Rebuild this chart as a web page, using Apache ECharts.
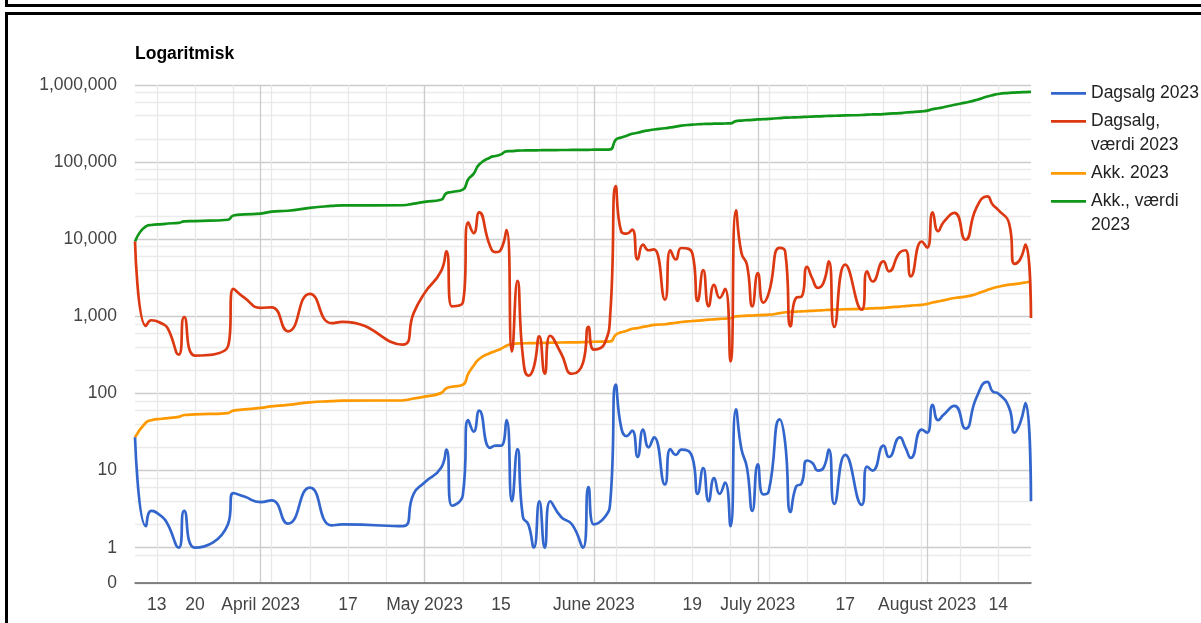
<!DOCTYPE html>
<html><head><meta charset="utf-8">
<script src="https://cdn.jsdelivr.net/npm/echarts@6/dist/echarts.min.js"></script>
<style>
html,body{margin:0;padding:0;background:#fff;overflow:hidden;width:1201px;height:623px;}
#box1{position:absolute;left:5px;top:-20px;width:1300px;height:21px;border:3px solid #000;}
#box2{position:absolute;left:5px;top:12px;width:1300px;height:700px;border:3px solid #000;}
#chart{position:absolute;left:0;top:0;width:1201px;height:623px;}
</style></head><body>
<div id="box1"></div><div id="box2"></div><div id="chart"></div>
<script>
// ---- data ----
const dates = ['2023-03-09','2023-03-11','2023-03-12','2023-03-14','2023-03-15','2023-03-17','2023-03-18','2023-03-20','2023-03-26','2023-03-27',
'2023-03-29','2023-04-01','2023-04-03','2023-04-06','2023-04-10','2023-04-14','2023-04-16','2023-04-27','2023-04-29','2023-05-01',
'2023-05-04','2023-05-05','2023-05-06','2023-05-08','2023-05-09','2023-05-10','2023-05-11','2023-05-13','2023-05-14','2023-05-15',
'2023-05-16','2023-05-17','2023-05-18','2023-05-19','2023-05-20','2023-05-21','2023-05-22','2023-05-23','2023-05-24','2023-05-26',
'2023-05-28','2023-05-30','2023-05-31','2023-06-01','2023-06-03','2023-06-04','2023-06-05','2023-06-06','2023-06-07','2023-06-08',
'2023-06-09','2023-06-10','2023-06-11','2023-06-12','2023-06-14','2023-06-15','2023-06-16','2023-06-17','2023-06-19','2023-06-20',
'2023-06-21','2023-06-22','2023-06-23','2023-06-24','2023-06-25','2023-06-26','2023-06-27','2023-06-28','2023-06-29','2023-06-30',
'2023-07-01','2023-07-02','2023-07-03','2023-07-05','2023-07-06','2023-07-07','2023-07-08','2023-07-09','2023-07-10','2023-07-11',
'2023-07-12','2023-07-13','2023-07-14','2023-07-15','2023-07-17','2023-07-20','2023-07-21','2023-07-22','2023-07-24','2023-07-25',
'2023-07-27','2023-07-28','2023-07-29','2023-07-31','2023-08-01','2023-08-02','2023-08-03','2023-08-04','2023-08-06','2023-08-08',
'2023-08-10','2023-08-12','2023-08-13','2023-08-14','2023-08-16','2023-08-17','2023-08-18','2023-08-19','2023-08-20'];

const dagsalg = [27,1.9,3,2.5,2,1,3,1,2,5.1,
4.6,3.9,4.1,2.05,6,1.95,2,1.9,5,7,
10.8,18.7,3.5,4.8,45,32,60,19.7,21,21,
45,4,19,2.5,2,1,4,1,4,2.5,
2,1,6.1,2,2.5,4,130,36,28,33,
15,34,20,27,6.6,19,16,18.7,15,5,
10.8,4,8,5,7,1.9,62,19,11,3,
12,4.9,5.4,46,23,2.9,6.2,6.8,13.5,12.5,
10,10.8,18.7,3.7,16,3.6,11.3,10,21,15,
27,20,14.6,34,31,71,45,53,69,35,
88,141,106,100,65,31,41,75,4];

const dagsalgVaerdi = [9350,750,890,800,700,318,980,310,405,2270,
1750,1290,1310,640,1960,815,850,430,1100,2000,
3830,6950,1350,1500,16600,12000,22300,8100,6800,7400,
13100,350,2880,300,170,220,550,180,560,330,
180,250,730,370,450,1100,49000,12600,11800,13300,
5460,8500,7200,7400,1650,7200,5460,7700,6620,1580,
3970,1350,2570,1740,2270,260,23600,6620,4690,1350,
3640,1510,2000,7740,6960,742,1740,1800,4370,3050,
2340,2700,5160,728,4690,1220,3840,2830,5160,3840,
6760,7200,3300,9350,7750,22300,12700,16700,21900,9850,
25500,36000,28000,24000,16000,4800,5460,8500,950];

const akk = [27,42,45,47,48,49.6,52.6,53.5,55.7,60,
62,65,68,71,76.8,79.5,80.6,81.5,86,91,
101,117,122,130,180,230,280,335,355,380,
416,438,445,447,449,450,452,453,455,458,
460,462,466,468,470,473,577,620,650,690,
705,730,750,775,790,810,825,845,870,880,
895,905,915,925,935,945,1000,1010,1020,1025,
1035,1045,1050,1100,1130,1140,1150,1160,1170,1180,
1190,1200,1215,1220,1235,1250,1260,1270,1290,1310,
1340,1360,1380,1410,1450,1510,1560,1610,1730,1800,
1950,2200,2320,2420,2580,2620,2680,2750,2830];

const akkVaerdi = [9350,14700,15300,15700,16000,16300,17000,17200,17900,20300,
21000,21500,22800,23400,25500,27000,27500,27600,29000,30500,
32500,39500,41000,44000,60000,71000,93000,115000,120000,126000,
138000,139000,141000,141500,141700,142000,142500,142700,143000,143500,
143800,144000,144500,144800,145000,146000,195000,208000,220000,233000,
240000,250000,258000,265000,275000,282000,288000,297000,306000,310000,
312000,313000,315000,316000,317000,318000,340000,346000,350000,353000,
358000,360000,363000,372000,378000,379000,381000,383000,387000,390000,
392000,394000,398000,399000,403000,408000,412000,415000,420000,425000,
432000,440000,444000,455000,465000,487000,500000,515000,555000,590000,
640000,710000,740000,765000,790000,798000,803000,810000,812000];

const seriesNames = ['Dagsalg 2023','Dagsalg, værdi 2023','Akk. 2023','Akk., værdi 2023'];
const legendLabels = ['Dagsalg 2023','Dagsalg,\nværdi 2023','Akk. 2023','Akk., værdi\n2023'];
const seriesColors = ['#3366cc','#dc3912','#ff9900','#109618'];

const xTickDates = ['2023-03-13','2023-03-20','2023-04-01','2023-04-17','2023-05-01','2023-05-15','2023-06-01','2023-06-19','2023-07-01','2023-07-17','2023-08-01','2023-08-14'];
const xTickLabels = ['13','20','April 2023','17','May 2023','15','June 2023','19','July 2023','17','August 2023','14'];
const monthStarts = ['2023-04-01','2023-05-01','2023-06-01','2023-07-01','2023-08-01'];
const weekStarts = ['2023-03-13','2023-03-20','2023-03-27','2023-04-03','2023-04-10','2023-04-17','2023-04-24','2023-05-01','2023-05-08','2023-05-15','2023-05-22','2023-05-29','2023-06-05','2023-06-12','2023-06-19','2023-06-26','2023-07-03','2023-07-10','2023-07-17','2023-07-24','2023-07-31','2023-08-07','2023-08-14'];
const xStart = '2023-03-09', xEnd = '2023-08-20';

const yTickValues = [0,1,10,100,1000,10000,100000,1000000];
const yTickLabels = ['0','1','10','100','1,000','10,000','100,000','1,000,000'];
const yMinorValues = [0.8,2,4,6,8,20,40,60,80,200,400,600,800,2000,4000,6000,8000,20000,40000,60000,80000,200000,400000,600000,800000];

// ---- helpers ----
const START = Date.UTC(2023,2,9), DAY = 86400000;
function dayIndex(s){ const p = s.split('-').map(Number); return Math.round((Date.UTC(p[0],p[1]-1,p[2]) - START)/DAY); }
const ZERO_POS = -0.458; // position of "0" on Google-style log scale
function toY(v){ return v > 0 ? Math.log10(v) : ZERO_POS; }
function pairs(vals){ return dates.map((d,i) => [dayIndex(d), toY(vals[i])]); }

const FONT = "'Liberation Sans', Arial, sans-serif";
const FS = 17.5;
const xTickPos = xTickDates.map(dayIndex);
const yTickPos = yTickValues.map(toY);

function iconPath(barCenter){
  const a = (barCenter - 1.35).toFixed(2), b = (barCenter + 1.35).toFixed(2);
  return 'path://M0,0L0,0M0,' + a + 'L35,' + a + 'L35,' + b + 'L0,' + b + 'ZM35,48L35,48';
}
const legendIcons = [iconPath(24), iconPath(12), iconPath(24), iconPath(12)];

const chart = echarts.init(document.getElementById('chart'), null, {renderer:'canvas'});
const allSeries = [dagsalg, dagsalgVaerdi, akk, akkVaerdi];

chart.setOption({
  animation: false,
  backgroundColor: 'transparent',
  title: { text: 'Logaritmisk', left: 135, top: 45, padding: 0,
    textStyle: { fontSize: FS, fontWeight: 'bold', color: '#000', fontFamily: FONT } },
  legend: {
    orient: 'vertical', left: 1051, top: 69.3, padding: 0, itemGap: -8,
    itemWidth: 35, itemHeight: 48,
    itemStyle: { borderWidth: 0 },
    textStyle: { fontSize: FS, color: '#222', lineHeight: 24, fontFamily: FONT },
    data: seriesNames.map((n,i) => ({ name: n, icon: legendIcons[i] })),
    formatter: name => legendLabels[seriesNames.indexOf(name)]
  },
  grid: { left: 135, right: 170, top: 85, bottom: 40, containLabel: false },
  xAxis: [
    { type: 'value', min: dayIndex(xStart), max: dayIndex(xEnd), position: 'top',
      axisLine: {show:false}, axisLabel: {show:false},
      axisTick: {show:false, customValues: weekStarts.map(dayIndex)},
      splitLine: {show:true, lineStyle:{color:'#e8e8e8', width:1.3}} },
    { type: 'value', min: dayIndex(xStart), max: dayIndex(xEnd), position: 'bottom',
      axisLine: {show:true, onZero:false, lineStyle:{color:'#666', width:1.5}},
      axisTick: {show:false, customValues: monthStarts.map(dayIndex)},
      axisLabel: {show:true, customValues: xTickPos, margin: 13, fontSize: FS, color:'#444', fontFamily: FONT,
        formatter: v => { const i = xTickPos.findIndex(p => Math.abs(p - v) < 0.01); return i >= 0 ? xTickLabels[i] : ''; } },
      splitLine: {show:true, lineStyle:{color:'#cccccc', width:1.3}} }
  ],
  yAxis: [
    { type: 'value', min: ZERO_POS, max: 6, position: 'right',
      axisLine:{show:false}, axisLabel:{show:false},
      axisTick:{show:false, customValues: yMinorValues.map(toY)},
      splitLine:{show:true, lineStyle:{color:'#ebebeb', width:1.3}} },
    { type: 'value', min: ZERO_POS, max: 6, position: 'left',
      axisLine:{show:false},
      axisTick:{show:false, customValues: yTickPos},
      axisLabel:{show:true, customValues: yTickPos, margin: 18, fontSize: FS, color:'#444', fontFamily: FONT,
        formatter: v => { const i = yTickPos.findIndex(p => Math.abs(p - v) < 0.001); return i >= 0 ? yTickLabels[i] : ''; } },
      splitLine:{show:true, lineStyle:{color:'#cccccc', width:1.3}} }
  ],
  series: allSeries.map((vals, i) => ({
    name: seriesNames[i], type: 'line', xAxisIndex: 1, yAxisIndex: 1,
    data: pairs(vals), smooth: 0.55, symbol: 'none', showSymbol: false,
    lineStyle: { color: seriesColors[i], width: 2.7 },
    itemStyle: { color: seriesColors[i] },
    z: 3 + (3 - i)
  }))
});
</script>
</body></html>
